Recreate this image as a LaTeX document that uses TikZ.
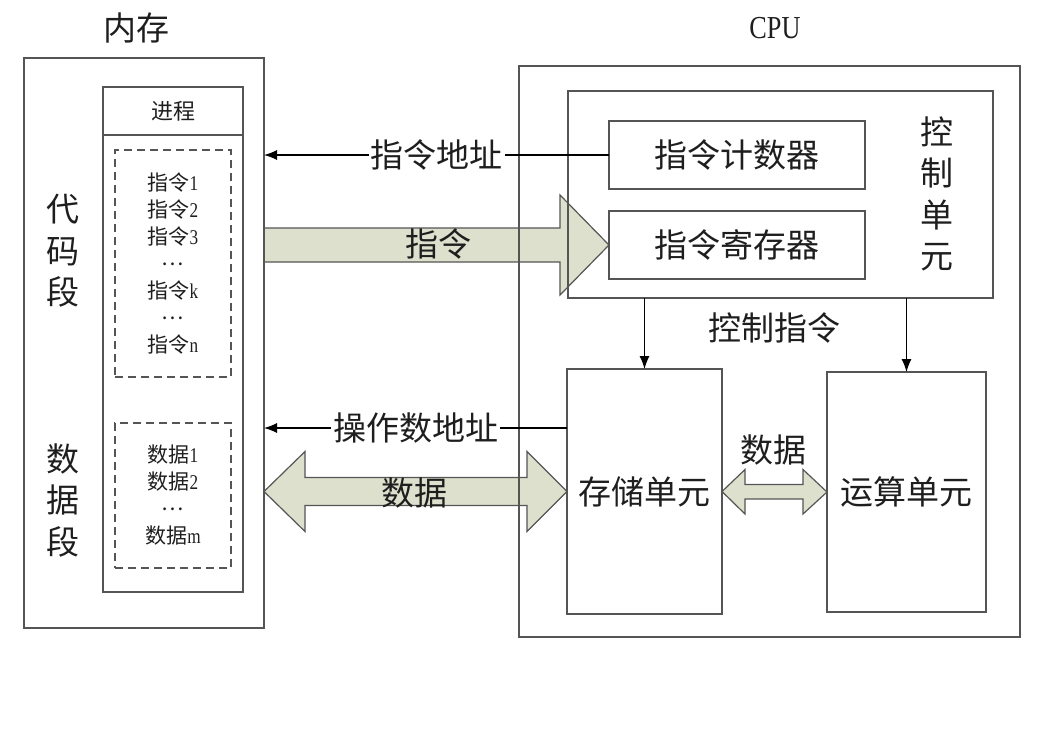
\documentclass[tikz,border=0pt]{standalone}
\usepackage{fontspec}
\setmainfont{Noto Sans CJK SC}
\newfontfamily\latin[FakeStretch=0.82]{Liberation Serif}
\usetikzlibrary{arrows.meta,calc,backgrounds}
\definecolor{linegray}{RGB}{85,85,85}
\definecolor{busfill}{RGB}{220,224,204}
\definecolor{inkgray}{RGB}{30,30,30}
\newcommand{\middots}{\raisebox{0.3em}{…}}

\begin{document}
\begin{tikzpicture}[x=0.5pt, y=-0.5pt, >={Latex[length=6.5pt,width=5pt]},
    every node/.style={font=\fontsize{16.5}{20.75}\selectfont, text=inkgray},
    unit/.style={draw=linegray, line width=0.8pt, inner sep=0pt, outer sep=0pt},
    seg/.style={draw=linegray, line width=0.6pt, dash pattern=on 4pt off 2.5pt, inner sep=0pt, outer sep=0pt},
    small/.style={font=\fontsize{10.5}{13.5}\selectfont, align=center},
    vtext/.style={align=center},
    bus/.style={draw=linegray, line width=0.6pt, fill=busfill, line join=miter},
    addr/.style={->, draw=black, line width=0.55pt},
    gap/.style={fill=white, inner xsep=1pt, inner ysep=0pt}]
    \useasboundingbox (0,0) rectangle (1049,741);
    % memory side
    \node (memtitle) at (136,28) {内存};
    \node[unit, minimum width=120pt, minimum height=285pt] (mem) at (144,343) {};
    \node[unit, minimum width=70pt, minimum height=252.5pt] (proc) at (173,339.5) {};
    \draw[unit] ([yshift=-24pt]proc.north west) -- ([yshift=-24pt]proc.north east);
    \node[font=\fontsize{11}{11}\selectfont] (prochead) at (173,111) {进程};
    \node[seg, minimum width=58pt, minimum height=113.5pt] (code) at (173,263.5) {};
    \node[seg, minimum width=58pt, minimum height=72.5pt] (data) at (173,495.5) {};
    \node[small] (codelist) at (code.center) {指令{\latin 1}\\指令{\latin 2}\\指令{\latin 3}\\\middots\\指令{\latin k}\\\middots\\指令{\latin n}};
    \node[small] (datalist) at (data.center) {数据{\latin 1}\\数据{\latin 2}\\\middots\\数据{\latin m}};
    \node[vtext] (codelbl) at (63,251) {代\\码\\段};
    \node[vtext] (datalbl) at (63,500) {数\\据\\段};
    % cpu side
    \node[font=\latin\fontsize{16}{16}\selectfont] (cputitle) at (775,28) {CPU};
    \node[unit, minimum width=250.5pt, minimum height=285.5pt] (cpu) at (769.5,351.5) {};
    \node[unit, minimum width=212.5pt, minimum height=103.5pt] (cu) at (780.5,194.5) {};
    \node[unit, minimum width=128pt, minimum height=34pt] (pc) at (737,155) {指令计数器};
    \node[unit, minimum width=128pt, minimum height=34pt] (ir) at (737,245) {指令寄存器};
    \node[vtext] (culbl) at (937,194) {控\\制\\单\\元};
    \node[unit, minimum width=77.5pt, minimum height=122.5pt] (sto) at (644.5,491.5) {存储单元};
    \node[unit, minimum width=79.5pt, minimum height=120pt] (alu) at (906.5,492) {运算单元};
    % control lines
    \draw[addr] (sto.north |- cu.south) -- (sto.north);
    \draw[addr] (alu.north |- cu.south) -- (alu.north);
    \node (ctrllbl) at (774,328) {控制指令};
    % address lines
    \draw[addr] (pc.west) -- node[gap] (pcaddr) {指令地址} (mem.east |- pc.west);
    \coordinate (opsrc) at ([yshift=-29.5pt]sto.north west);
    \draw[addr] (opsrc) -- node[gap] (opaddr) {操作数地址} (mem.east |- opsrc);
    % buses
    \begin{scope}[on background layer]
      \draw[bus] (mem.east |- ir.west) ++(0,-17) -- ++(296,0) -- ++(0,-33) -- (ir.west)
        -- ++(-49,50) -- ++(0,-33) -- ++(-296,0) -- cycle;
      \draw[bus] (mem.east |- sto.west) -- ++(41,-40) -- ++(0,26) -- ++(222,0) -- ++(0,-26)
        -- (sto.west) -- ++(-40,40) -- ++(0,-26) -- ++(-222,0) -- ++(0,26) -- cycle;
      \draw[bus] (sto.east) -- ++(23,-22) -- ++(0,15) -- ++(58,0) -- ++(0,-15)
        -- (alu.west) -- ++(-24,22) -- ++(0,-15) -- ++(-58,0) -- ++(0,15) -- cycle;
    \end{scope}
    \node (instrlbl) at (438,244) {指令};
    \node (datalbl1) at (414,493) {数据};
    \node (datalbl2) at (773,450) {数据};
\end{tikzpicture}
\end{document}
